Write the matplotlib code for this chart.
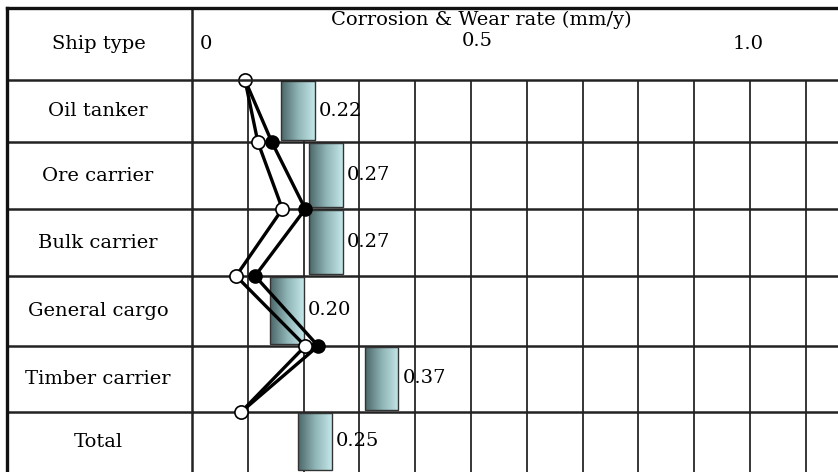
import numpy as np
import matplotlib.pyplot as plt
from matplotlib.colors import LinearSegmentedColormap

# data
ship_types = ['Oil tanker', 'Ore carrier', 'Bulk carrier', 'General cargo',
              'Timber carrier', 'Total']
rates = [0.22, 0.27, 0.27, 0.20, 0.37, 0.25]
rate_labels = ['0.22', '0.27', '0.27', '0.20', '0.37', '0.25']
# two wear curves read at the row boundaries (top of first row .. top of last row)
open_curve = [0.095, 0.118, 0.162, 0.079, 0.203, 0.088]
filled_curve = [0.095, 0.143, 0.203, 0.113, 0.226, 0.088]
tick_vals = [0, 0.5, 1.0]
tick_labels = ['0', '0.5', '1.0']

plt.rcParams['font.family'] = ['DejaVu Serif']
FS = 14

W, H = 838, 472
fig = plt.figure(figsize=(W / 100, H / 100), dpi=100)
fig.patch.set_facecolor('white')

# pixel layout of the table
left_px, div_px, top_px, head_px = 7, 192, 8, 80
row_edges = [80, 142, 209, 276, 346, 412, 472]
px_per_unit = 558.0
n = len(ship_types)

# axes: x in mm/y, y in pixels (top down)
ax = fig.add_axes([div_px / W, 0, 1 - div_px / W, (H - head_px) / H])
xmax = (W - div_px) / px_per_unit
ax.set_xlim(0, xmax)
ax.set_ylim(H, head_px)
ax.axis('off')

# vertical grid lines every 0.1
for gx in np.arange(0.1, 1.2, 0.1):
    ax.axvline(gx, color='black', lw=1.1, zorder=1)
# row lines
for ry in row_edges[1:-1]:
    ax.axhline(ry, color='#222222', lw=1.8, zorder=1)

# gradient bars
cmap = LinearSegmentedColormap.from_list('teal', ['#4b6668', '#8fb4b6', '#c3e6e8'])
grad = np.linspace(0, 1, 64).reshape(1, -1)
bar_w = 0.06
for i, v in enumerate(rates):
    x0, x1 = v - bar_w, v
    y0, y1 = row_edges[i] + 1, row_edges[i + 1] - 2
    ax.imshow(grad, cmap=cmap, extent=[x0, x1, y1, y0], aspect='auto', zorder=2)
    ax.add_patch(plt.Rectangle((x0, y0), bar_w, y1 - y0, fill=False,
                               ec='#333333', lw=1.0, zorder=3))
    ax.text(v + 0.008, (y0 + y1) / 2, rate_labels[i], ha='left', va='center',
            fontsize=FS, zorder=4)
ax.set_xlim(0, xmax)
ax.set_ylim(H, head_px)

ys = np.array(row_edges[:len(open_curve)])
ax.plot(filled_curve, ys, color='black', lw=2.4, zorder=5, clip_on=False)
ax.plot(filled_curve[1:-1], ys[1:-1], 'o', ms=9.5, color='black', zorder=6,
        clip_on=False)
ax.plot(open_curve, ys, color='black', lw=2.4, marker='o', ms=9.5, mfc='white',
        mec='black', mew=1.2, zorder=7, clip_on=False)

# table frame in figure pixels
def fx(p):
    return p / W

def fy(p):
    return 1 - p / H

frame = dict(color='#111111', lw=2.4, transform=fig.transFigure, zorder=10)
fig.add_artist(plt.Line2D([fx(left_px), 1], [fy(top_px), fy(top_px)], **frame))
fig.add_artist(plt.Line2D([fx(left_px), fx(left_px)], [fy(top_px), 0], **frame))
fig.add_artist(plt.Line2D([fx(div_px), fx(div_px)], [fy(top_px), 0],
                          color='#222222', lw=1.8, transform=fig.transFigure))
fig.add_artist(plt.Line2D([fx(left_px), 1], [fy(head_px), fy(head_px)],
                          color='#222222', lw=1.8, transform=fig.transFigure))
for yy in row_edges[1:-1]:
    fig.add_artist(plt.Line2D([fx(left_px), fx(div_px)], [fy(yy), fy(yy)],
                              color='#222222', lw=1.8, transform=fig.transFigure))

# labels
fig.text(fx(99), fy(44), 'Ship type', ha='center', va='center', fontsize=FS)
for i, name in enumerate(ship_types):
    yc = (row_edges[i] + row_edges[i + 1]) / 2
    fig.text(fx(98), fy(yc), name, ha='center', va='center', fontsize=FS)
fig.text(fx(481), fy(20), 'Corrosion & Wear rate (mm/y)', ha='center',
         va='center', fontsize=FS)
for v, lab in zip(tick_vals, tick_labels):
    xp = div_px + v * px_per_unit
    if v == 0:
        fig.text(fx(xp + 8), fy(44), lab, ha='left', va='center', fontsize=FS)
    elif v == 0.5:
        fig.text(fx(xp + 6), fy(41), lab, ha='center', va='center', fontsize=FS)
    else:
        fig.text(fx(xp - 2), fy(44), lab, ha='center', va='center', fontsize=FS)

fig.savefig('out.png', dpi=100, facecolor='white')
